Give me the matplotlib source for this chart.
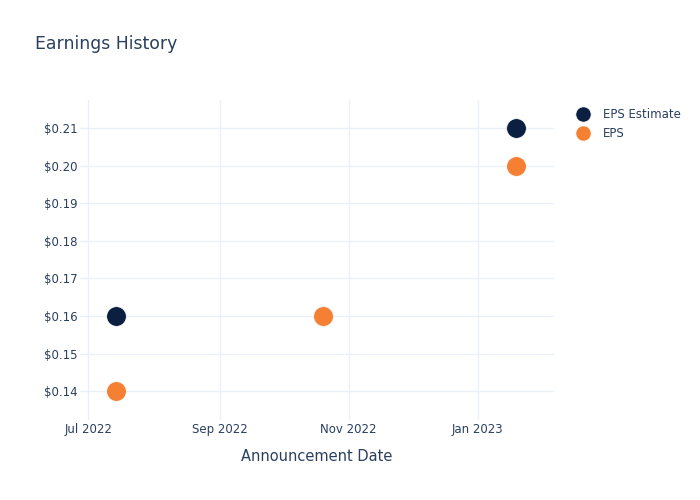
import matplotlib
matplotlib.use("Agg")
import matplotlib.pyplot as plt
import matplotlib.dates as mdates
from matplotlib.ticker import FuncFormatter
from matplotlib.lines import Line2D
import pandas as pd

dates = ["2022-07-14", "2022-10-20", "2023-01-19"]
eps_estimate = [0.16, 0.16, 0.21]
eps_actual = [0.14, 0.16, 0.20]
series_names = ["EPS Estimate", "EPS"]

TEXT = "#2a3f5f"
GRID = "#ebf0f8"
NAVY = "#0b1f41"
ORANGE = "#f58033"

x = pd.to_datetime(dates)

fig = plt.figure(figsize=(7, 5), dpi=100)
ax = fig.add_axes([80/700, 80/500, 474/700, 320/500])

ax.scatter(x, eps_estimate, s=200, color=NAVY, edgecolor="white", linewidth=0.5, zorder=3)
ax.scatter(x, eps_actual, s=200, color=ORANGE, edgecolor="white", linewidth=0.5, zorder=4)

ax.set_xlim(pd.Timestamp("2022-06-27"), pd.Timestamp("2023-02-06"))
ax.set_ylim(0.1323, 0.2175)

ax.set_yticks([0.14, 0.15, 0.16, 0.17, 0.18, 0.19, 0.20, 0.21])
ax.yaxis.set_major_formatter(FuncFormatter(lambda v, p: f"${v:.2f}"))
ax.set_xticks(pd.to_datetime(["2022-07-01", "2022-09-01", "2022-11-01", "2023-01-01"]))
ax.xaxis.set_major_formatter(mdates.DateFormatter("%b %Y"))

ax.grid(True, color=GRID, linewidth=1)
ax.set_axisbelow(True)
for sp in ax.spines.values():
    sp.set_visible(False)
ax.tick_params(length=0, labelsize=8.5, colors=TEXT)
ax.tick_params(axis="y", pad=2)
ax.tick_params(axis="x", pad=2.5)

ax.set_xlabel("Announcement Date", fontsize=10.5, color=TEXT, labelpad=9)

fig.text(35/700, 1 - 44/500, "Earnings History", fontsize=12.4, color=TEXT, va="center", ha="left")

handles = [
    Line2D([], [], marker="o", linestyle="", markersize=11, color=NAVY, markeredgecolor="white", markeredgewidth=0.5),
    Line2D([], [], marker="o", linestyle="", markersize=11, color=ORANGE, markeredgecolor="white", markeredgewidth=0.5),
]
leg = fig.legend(handles, series_names, loc="upper left", bbox_to_anchor=(569/700, 1 - 103/500),
                 frameon=False, fontsize=8.5, labelcolor=TEXT, handletextpad=0.95,
                 labelspacing=0.52, borderaxespad=0, handlelength=1.5)

fig.savefig("out.png", dpi=100)
